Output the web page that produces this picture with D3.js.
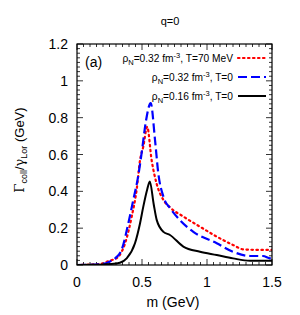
<!DOCTYPE html>
<html>
<head>
<meta charset="utf-8">
<script src="https://cdn.jsdelivr.net/npm/d3@7"></script>
<style>
  body { margin: 0; background: #fff; }
  text { font-family: "Liberation Sans", Arial, sans-serif; }
</style>
</head>
<body>
<script>
// values (m in GeV, Gamma/gamma in GeV)
const xTicks = [0, 0.5, 1, 1.5];
const yTicks = [0, 0.2, 0.4, 0.6, 0.8, 1, 1.2];

const mHot = [0, 0.1, 0.2, 0.23, 0.28, 0.318, 0.37, 0.42, 0.459, 0.485, 0.51, 0.54, 0.574, 0.613, 0.665, 0.72, 0.818, 0.946, 1.075, 1.2, 1.28, 1.4, 1.5];
const gHot = [0, 0.002, 0.008, 0.018, 0.03, 0.045, 0.118, 0.26, 0.41, 0.57, 0.643, 0.75, 0.57, 0.44, 0.353, 0.31, 0.263, 0.208, 0.154, 0.109, 0.085, 0.082, 0.082];

const mDense = [0, 0.1, 0.2, 0.25, 0.3, 0.343, 0.395, 0.433, 0.47, 0.497, 0.53, 0.567, 0.6, 0.625, 0.665, 0.72, 0.79, 0.895, 1.075, 1.2, 1.33, 1.43, 1.485, 1.5];
const gDense = [0, 0.001, 0.006, 0.018, 0.04, 0.082, 0.227, 0.353, 0.48, 0.607, 0.78, 0.879, 0.68, 0.50, 0.37, 0.305, 0.245, 0.18, 0.118, 0.072, 0.049, 0.049, 0.036, 0.035];

const mNormal = [0, 0.1, 0.2, 0.3, 0.33, 0.382, 0.446, 0.485, 0.51, 0.54, 0.56, 0.59, 0.613, 0.665, 0.715, 0.818, 0.946, 1.075, 1.2, 1.33, 1.485, 1.5];
const gNormal = [0, 0.001, 0.003, 0.008, 0.012, 0.036, 0.118, 0.227, 0.317, 0.41, 0.453, 0.33, 0.245, 0.18, 0.163, 0.1, 0.072, 0.054, 0.036, 0.023, 0.023, 0.023];

const width = 300, height = 315;
const margin = {left: 77, right: 28, top: 44, bottom: 50};

const svg = d3.select("body").append("svg")
  .attr("width", width)
  .attr("height", height);

const x = d3.scaleLinear().domain([0, 1.5]).range([margin.left, width - margin.right]);
const y = d3.scaleLinear().domain([0, 1.2]).range([height - margin.bottom, margin.top]);

// minor and major ticks, on all four sides, pointing inward
const x0 = x(0), x1 = x(1.5), y0 = y(0), y1 = y(1.2);
const tickG = svg.append("g").attr("stroke", "#000").attr("stroke-width", 0.8);
d3.range(0, 1.5001, 0.05).forEach(v => {
  const major = xTicks.some(t => Math.abs(t - v) < 1e-6);
  const len = major ? 6 : 3;
  tickG.append("line").attr("x1", x(v)).attr("x2", x(v)).attr("y1", y0).attr("y2", y0 - len);
  tickG.append("line").attr("x1", x(v)).attr("x2", x(v)).attr("y1", y1).attr("y2", y1 + len);
});
d3.range(0, 1.2001, 0.025).forEach(v => {
  const major = yTicks.some(t => Math.abs(t - v) < 1e-6);
  const len = major ? 6 : 3;
  tickG.append("line").attr("x1", x0).attr("x2", x0 + len).attr("y1", y(v)).attr("y2", y(v));
  tickG.append("line").attr("x1", x1).attr("x2", x1 - len).attr("y1", y(v)).attr("y2", y(v));
});

// tick labels
svg.append("g").selectAll("text").data(xTicks).join("text")
  .attr("x", d => x(d)).attr("y", y0 + 22)
  .attr("text-anchor", "middle").attr("font-size", 14)
  .text(d => d);
svg.append("g").selectAll("text").data(yTicks).join("text")
  .attr("x", x0 - 9).attr("y", d => y(d) + 5)
  .attr("text-anchor", "end").attr("font-size", 14)
  .text(d => d);

// curves
const line = d3.line().x(d => x(d[0])).y(d => y(d[1])).curve(d3.curveMonotoneX);
const series = [
  {m: mHot, g: gHot, color: "#ff0000", dash: "1.5,3.5", w: 2.2, cap: "round"},
  {m: mDense, g: gDense, color: "#0000ff", dash: "9,4", w: 2.2, cap: "butt"},
  {m: mNormal, g: gNormal, color: "#000000", dash: null, w: 2, cap: "butt"}
];
const clip = svg.append("clipPath").attr("id", "clip").append("rect")
  .attr("x", x0).attr("y", y1).attr("width", x1 - x0).attr("height", y0 - y1);
series.forEach(s => {
  svg.append("path")
    .datum(s.m.map((v, i) => [v, s.g[i]]))
    .attr("clip-path", "url(#clip)")
    .attr("fill", "none")
    .attr("stroke", s.color)
    .attr("stroke-width", s.w)
    .attr("stroke-linecap", s.cap)
    .attr("stroke-dasharray", s.dash)
    .attr("d", line);
});

// frame
svg.append("rect")
  .attr("x", x0).attr("y", y1).attr("width", x1 - x0).attr("height", y0 - y1)
  .attr("fill", "none").attr("stroke", "#000").attr("stroke-width", 1.2);

// legend
const legendRows = [
  {label: ["ρ", "N", "=0.32 fm", "-3", ", T=70 MeV"], s: series[0]},
  {label: ["ρ", "N", "=0.32 fm", "-3", ", T=0"], s: series[1]},
  {label: ["ρ", "N", "=0.16 fm", "-3", ", T=0"], s: series[2]}
];
legendRows.forEach((r, i) => {
  const ly = 58 + i * 19;
  const t = svg.append("text").attr("x", 233).attr("y", ly + 4)
    .attr("text-anchor", "end").attr("font-size", 10.2);
  t.append("tspan").text(r.label[0]);
  t.append("tspan").attr("font-size", 7.5).attr("dy", 3).text(r.label[1]);
  t.append("tspan").attr("dy", -3).text(r.label[2]);
  t.append("tspan").attr("font-size", 7.5).attr("dy", -4).text(r.label[3]);
  t.append("tspan").attr("dy", 4).text(r.label[4]);
  svg.append("line").attr("x1", 238).attr("x2", 266).attr("y1", ly).attr("y2", ly)
    .attr("stroke", r.s.color).attr("stroke-width", r.s.w)
    .attr("stroke-linecap", r.s.cap).attr("stroke-dasharray", r.s.dash);
});

svg.append("text").attr("x", 85).attr("y", 67).attr("font-size", 14).text("(a)");

// titles
svg.append("text").attr("x", 170).attr("y", 25).attr("text-anchor", "middle")
  .attr("font-size", 11).text("q=0");
svg.append("text").attr("x", 173).attr("y", 307).attr("text-anchor", "middle")
  .attr("font-size", 14).text("m (GeV)");

const yl = svg.append("text")
  .attr("transform", `translate(24,150) rotate(-90)`)
  .attr("text-anchor", "middle").attr("font-size", 13);
yl.append("tspan").attr("font-family", "DejaVu Serif, serif").text("Γ");
yl.append("tspan").attr("font-size", 9).attr("dy", 3).text("coll");
yl.append("tspan").attr("dy", -3).text("/");
yl.append("tspan").attr("font-family", "DejaVu Serif, serif").text("γ");
yl.append("tspan").attr("font-size", 9).attr("dy", 3).text("Lor");
yl.append("tspan").attr("dy", -3).text(" (GeV)");
</script>
</body>
</html>
